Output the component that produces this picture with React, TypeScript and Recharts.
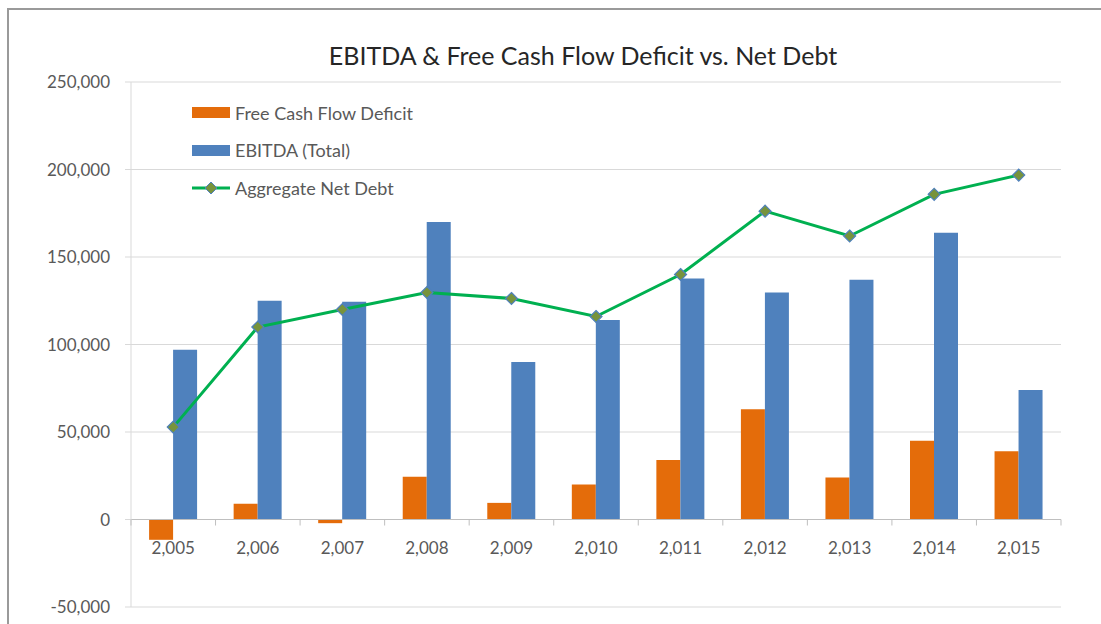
import React from 'react';
import {
  Bar,
  CartesianGrid,
  ComposedChart,
  Legend,
  Line,
  ReferenceLine,
  XAxis,
  YAxis,
} from 'recharts';

const years = [2005, 2006, 2007, 2008, 2009, 2010, 2011, 2012, 2013, 2014, 2015];
const fcfDeficit = [-11600, 9000, -2100, 24500, 9500, 20000, 34000, 63000, 24000, 45000, 39000];
const ebitdaTotal = [97000, 125000, 124500, 170000, 90000, 114000, 137700, 129700, 137000, 163800, 74000];
const netDebt = [52800, 110000, 120000, 129700, 126300, 116000, 140000, 176200, 162000, 185800, 196800];
const yTicks = [-50000, 0, 50000, 100000, 150000, 200000, 250000];
const legendOrder = ['fcf', 'ebitda', 'netDebt'];

const chartData = years.map((year, i) => ({
  year,
  fcf: fcfDeficit[i],
  ebitda: ebitdaTotal[i],
  netDebt: netDebt[i],
}));

const W = 1101;
const H = 624;
const M = { top: 82, right: 40, left: 0, bottom: 0 };
const Y_AXIS_W = 131;
const X_AXIS_H = 17;
const PLOT_W = W - M.left - M.right - Y_AXIS_W;
const PLOT_H = H - M.top - M.bottom - X_AXIS_H;
const Y_MIN = -50000;
const Y_MAX = 250000;
// category axis crosses the value axis at 0
const ZERO_Y = M.top + (PLOT_H * Y_MAX) / (Y_MAX - Y_MIN);

const FONT = 'Lato, "Open Sans", sans-serif';
const TEXT = '#595959';
const GRID = '#D9D9D9';
const AXIS = '#BFBFBF';
const ORANGE = '#E46C0A';
const BLUE = '#4F81BD';
const GREEN = '#00B050';
const OLIVE = '#77933C';

const fmt = (v: number) => v.toLocaleString('en-US');

function YearTick({ x, index, payload }: any) {
  const band = PLOT_W / years.length;
  const last = index === years.length - 1;
  return (
    <g>
      <line x1={x - band / 2} x2={x - band / 2} y1={ZERO_Y} y2={ZERO_Y + 6} stroke={AXIS} />
      {last && (
        <line x1={x + band / 2} x2={x + band / 2} y1={ZERO_Y} y2={ZERO_Y + 6} stroke={AXIS} />
      )}
      <text x={x} y={ZERO_Y + 34} textAnchor="middle" fill={TEXT} fontSize={17} fontFamily={FONT}>
        {fmt(payload.value)}
      </text>
    </g>
  );
}

function Diamond({ cx, cy }: any) {
  if (cx == null || cy == null) return null;
  const r = 6;
  return (
    <polygon
      points={`${cx},${cy - r} ${cx + r},${cy} ${cx},${cy + r} ${cx - r},${cy}`}
      fill={OLIVE}
      stroke={BLUE}
      strokeWidth={1.2}
    />
  );
}

function LegendBox({ payload }: any) {
  const items = [...(payload ?? [])].sort(
    (a: any, b: any) => legendOrder.indexOf(a.dataKey) - legendOrder.indexOf(b.dataKey),
  );
  return (
    <div style={{ fontFamily: FONT, fontSize: 18, color: TEXT }}>
      {items.map((entry: any) => (
        <div
          key={entry.value}
          style={{ display: 'flex', alignItems: 'center', height: 37.5 }}
        >
          {entry.dataKey === 'netDebt' ? (
            <svg width={38} height={14} style={{ marginRight: 5 }}>
              <line x1={0} x2={38} y1={7} y2={7} stroke={GREEN} strokeWidth={3} />
              <polygon points="19,1 25,7 19,13 13,7" fill={OLIVE} stroke={BLUE} strokeWidth={1} />
            </svg>
          ) : (
            <div style={{ width: 38, height: 11, background: entry.color, marginRight: 5 }} />
          )}
          <span>{entry.value}</span>
        </div>
      ))}
    </div>
  );
}

export default function App() {
  return (
    <div
      style={{
        position: 'absolute',
        left: 0,
        top: 0,
        width: W,
        height: H,
        overflow: 'hidden',
        background: '#fff',
      }}
    >
      <div
        style={{
          position: 'absolute',
          left: 7,
          top: 8,
          width: W - 7,
          height: H - 8,
          borderLeft: '2px solid #9A9A9A',
          borderTop: '2px solid #9A9A9A',
          boxSizing: 'border-box',
        }}
      />
      <div
        style={{
          position: 'absolute',
          left: 583,
          top: 40,
          transform: 'translateX(-50%)',
          whiteSpace: 'nowrap',
          fontFamily: FONT,
          fontSize: 25,
          lineHeight: '30px',
          color: '#262626',
        }}
      >
        EBITDA &amp; Free Cash Flow Deficit vs. Net Debt
      </div>
      <div style={{ position: 'absolute', left: 0, top: 0 }}>
        <ComposedChart
          width={W}
          height={H}
          data={chartData}
          margin={M}
          barCategoryGap="21.4%"
          barGap={0}
        >
          <CartesianGrid horizontal vertical={false} stroke={GRID} />
          <XAxis
            dataKey="year"
            height={X_AXIS_H}
            axisLine={false}
            tickLine={false}
            interval={0}
            tick={<YearTick />}
          />
          <YAxis
            width={Y_AXIS_W}
            domain={[Y_MIN, Y_MAX]}
            ticks={yTicks}
            tickFormatter={fmt}
            axisLine={{ stroke: GRID }}
            tickLine={{ stroke: GRID }}
            tickSize={6}
            tickMargin={15}
            tick={{ fill: TEXT, fontSize: 17, fontFamily: FONT }}
          />
          <ReferenceLine y={0} stroke={AXIS} />
          <Legend
            layout="vertical"
            align="center"
            verticalAlign="middle"
            wrapperStyle={{ left: 192, top: 94, width: 'auto' }}
            content={<LegendBox />}
          />
          <Bar dataKey="fcf" name="Free Cash Flow Deficit" fill={ORANGE} isAnimationActive={false} />
          <Bar dataKey="ebitda" name="EBITDA (Total)" fill={BLUE} isAnimationActive={false} />
          <Line
            type="linear"
            dataKey="netDebt"
            name="Aggregate Net Debt"
            stroke={GREEN}
            strokeWidth={3}
            dot={<Diamond />}
            activeDot={false}
            isAnimationActive={false}
          />
        </ComposedChart>
      </div>
    </div>
  );
}
